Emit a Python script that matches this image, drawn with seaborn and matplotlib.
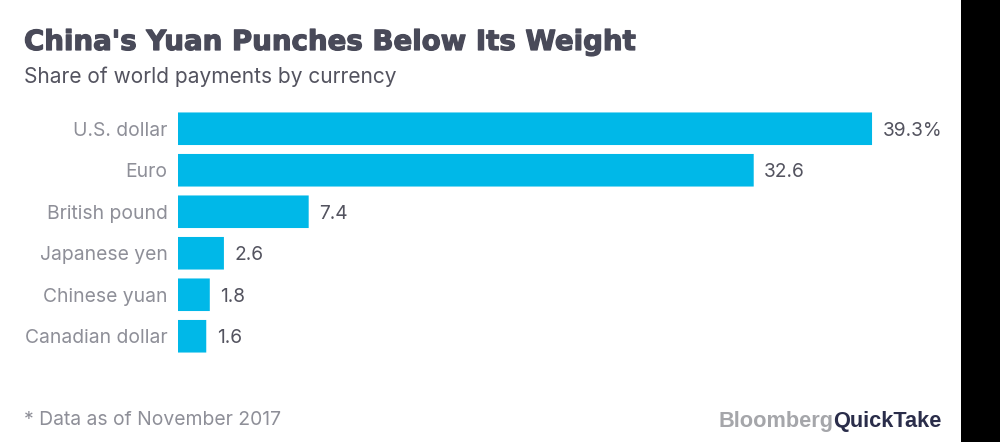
import matplotlib
matplotlib.use("Agg")
import matplotlib.pyplot as plt
import matplotlib.patheffects as pe
from matplotlib.patches import Rectangle
import pandas as pd
import seaborn as sns

currencies = ["U.S. dollar", "Euro", "British pound", "Japanese yen", "Chinese yuan", "Canadian dollar"]
shares = [39.3, 32.6, 7.4, 2.6, 1.8, 1.6]
value_labels = ["39.3%", "32.6", "7.4", "2.6", "1.8", "1.6"]

sns.set_theme(style="white")
plt.rcParams['font.family'] = ['Inter', 'DejaVu Sans']

W, H = 1000, 442
fig = plt.figure(figsize=(W / 100, H / 100), dpi=100, facecolor="white")
ax = fig.add_axes([178 / W, 1 - 357 / H, (961 - 178) / W, 249 / H])
ax.set_facecolor("none")

df = pd.DataFrame({"currency": currencies, "share": shares})
sns.barplot(data=df, x="share", y="currency", color="#00B8E8", saturation=1, width=0.785, ax=ax)
for bar in ax.patches:
    bar.set_snap(False)
    bar.set_linewidth(0)

ax.set_xlim(0, 783 / 17.66)
ax.set_ylim(5.5, -0.5)
ax.set_xlabel("")
ax.set_ylabel("")
ax.xaxis.set_visible(False)
ax.tick_params(axis="y", length=0, pad=7.5, labelsize=13.9, labelcolor="#8E8F98")
sns.despine(ax=ax, left=True, bottom=True)

labels = ax.bar_label(ax.containers[0], labels=value_labels, padding=7.5, fontsize=13.8, color="#53535F")
for label in labels:
    label.set_verticalalignment("center_baseline")

title = fig.text(24 / W, 1 - 50 / H, "China's Yuan Punches Below Its Weight", fontfamily="DejaVu Sans",
                 fontweight="bold", fontsize=19.9, color="#494A59", va="baseline")
title.set_path_effects([pe.withStroke(linewidth=0.9, foreground="#494A59")])
fig.text(24 / W, 1 - 83 / H, "Share of world payments by currency", fontsize=15.05, color="#53535F", va="baseline")
fig.text(24 / W, 1 - 425 / H, "* Data as of November 2017", fontsize=13.9, color="#8E8F98", va="baseline")

t1 = fig.text(718 / W, 1 - 427 / H, "Bloomberg", fontfamily="Liberation Sans", fontweight="bold",
              fontsize=15.7, color="#A5A6AA", va="baseline")
fig.canvas.draw()
x1 = t1.get_window_extent().x1
fig.text(x1 / W, 1 - 427 / H, "QuickTake", fontfamily="Liberation Sans", fontweight="bold",
         fontsize=15.7, color="#2A2D4A", va="baseline")

fig.add_artist(Rectangle((961 / W, 0), 39 / W, 1, transform=fig.transFigure, facecolor="black", edgecolor="none"))

fig.savefig("out.png", dpi=100, facecolor="white")
